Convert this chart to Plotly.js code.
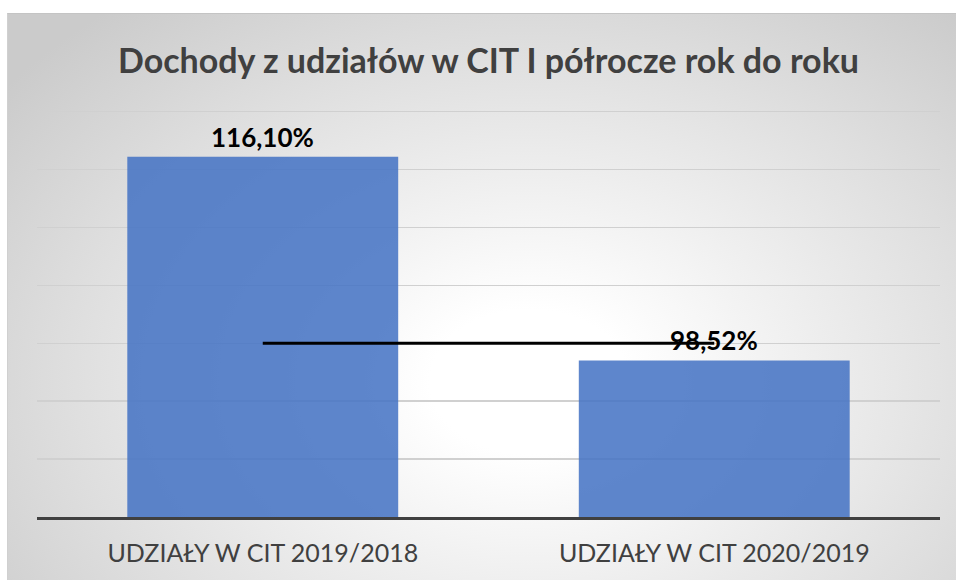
<!DOCTYPE html>
<html>
<head>
<meta charset="utf-8">
<script src="https://cdn.plot.ly/plotly-3.0.1.min.js"></script>
<style>
  html, body { margin: 0; padding: 0; background: #ffffff; }
  #bg {
    position: absolute; left: 7px; top: 13px; width: 949px; height: 567px;
    border-top: 1px solid #c4c4c4; border-left: 1px solid #d0d0d0;
    box-sizing: border-box;
    background: radial-gradient(ellipse 70% 85% at 55% 65%, #ffffff 0%, #ffffff 15%, #f0f0f0 40%, #dedede 70%, #cbcbcb 100%);
  }
  #chart { position: absolute; left: 0; top: 0; width: 956px; height: 580px; }
</style>
</head>
<body>
<div id="bg"></div>
<div id="chart"></div>
<script>
const categories = ["UDZIAŁY W CIT 2019/2018", "UDZIAŁY W CIT 2020/2019"];
const values = [116.10, 98.52];
const referenceValues = [100, 100];
const titleText = "Dochody z udziałów w CIT I półrocze rok do roku";

const bars = {
  type: "bar",
  x: categories,
  y: values,
  marker: { color: "#4472C4", opacity: 0.86 },
  hoverinfo: "skip",
  showlegend: false
};

const refLine = {
  type: "scatter",
  mode: "lines",
  x: categories,
  y: referenceValues,
  line: { color: "#000000", width: 3 },
  hoverinfo: "skip",
  showlegend: false
};

const labels = categories.map((c, i) => ({
  x: c, y: values[i], xref: "x", yref: "y",
  text: values[i].toFixed(2).replace(".", ",") + "%",
  showarrow: false, yanchor: "bottom", yshift: 2,
  font: { family: "Lato, 'Open Sans', sans-serif", size: 26, color: "#000000", weight: "bold" }
}));

const layout = {
  width: 956, height: 580,
  margin: { l: 37, r: 16, t: 100, b: 63 },
  paper_bgcolor: "rgba(0,0,0,0)",
  plot_bgcolor: "rgba(0,0,0,0)",
  separators: ",.",
  bargap: 0.4,
  title: {
    text: "<b>" + titleText + "</b>",
    x: 0.5, xref: "paper", y: 0.895, yref: "container", yanchor: "middle",
    font: { family: "Lato, 'Open Sans', sans-serif", size: 34, color: "#404040" }
  },
  xaxis: {
    type: "category",
    showgrid: false,
    showline: true, linecolor: "#404040", linewidth: 3,
    ticks: "outside", ticklen: 12, tickcolor: "rgba(0,0,0,0)",
    tickfont: { family: "Lato, 'Open Sans', sans-serif", size: 25, color: "#404040" },
    automargin: false
  },
  yaxis: {
    range: [85, 121],
    tickvals: [90, 95, 100, 105, 110, 115, 120],
    showgrid: true, gridcolor: "#d0d0d0", gridwidth: 1.5,
    zeroline: false,
    showticklabels: false,
    ticks: "",
    fixedrange: true
  },
  annotations: labels
};

Plotly.newPlot("chart", [bars, refLine], layout, { displayModeBar: false, staticPlot: true });
</script>
</body>
</html>
